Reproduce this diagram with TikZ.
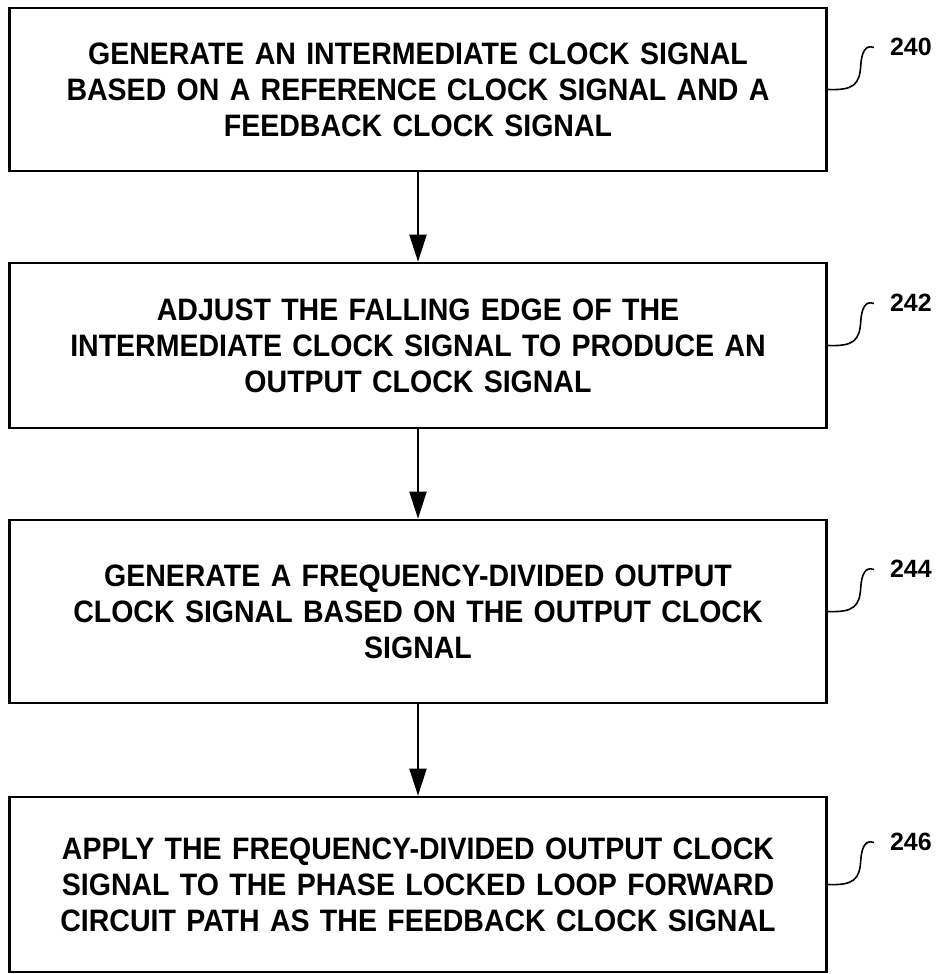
\documentclass[tikz,border=0pt]{standalone}
\usepackage{fontspec}
\setmainfont{Liberation Sans}
\newfontfamily\boxfont[FakeStretch=0.92]{Liberation Sans}
\usetikzlibrary{arrows.meta,positioning}
\tikzset{
  stepbox/.style={draw,line width=2.6pt,minimum width=817pt,text width=800pt,align=center,inner sep=0pt,font=\boxfont\bfseries\fontsize{31}{36}\selectfont},
  flow/.style={-{Triangle[length=27pt,width=17pt]},line width=2pt},
  refnum/.style={anchor=west,inner sep=0pt,font=\bfseries\fontsize{25}{30}\selectfont},
  squig/.style={line width=1.6pt}
}
\begin{document}
\begin{tikzpicture}[x=1pt,y=-1pt]
			\useasboundingbox (0,0) rectangle (948,974);
			\node[stepbox,minimum height=163pt] (gen) at (418,89.5) {GENERATE AN INTERMEDIATE CLOCK SIGNAL\\BASED ON A REFERENCE CLOCK SIGNAL AND A\\FEEDBACK CLOCK SIGNAL};
			\node[stepbox,minimum height=165pt,below=89.4pt of gen] (adj) {ADJUST THE FALLING EDGE OF THE\\INTERMEDIATE CLOCK SIGNAL TO PRODUCE AN\\OUTPUT CLOCK SIGNAL};
			\node[stepbox,minimum height=183pt,below=89.4pt of adj] (div) {GENERATE A FREQUENCY-DIVIDED OUTPUT\\CLOCK SIGNAL BASED ON THE OUTPUT CLOCK\\SIGNAL};
			\node[stepbox,minimum height=175pt,below=91.4pt of div] (app) {APPLY THE FREQUENCY-DIVIDED OUTPUT CLOCK\\SIGNAL TO THE PHASE LOCKED LOOP FORWARD\\CIRCUIT PATH AS THE FEEDBACK CLOCK SIGNAL};
			\draw[flow] (gen) -- (adj);
			\draw[flow] (adj) -- (div);
			\draw[flow] (div) -- (app);
			\foreach \b/\n in {gen/240,adj/242,div/244,app/246}{
				\node[refnum] (r\n) at ([shift={(62,-43)}]\b.east) {\n};
				\begin{scope}[shift={(\b.east)}]
					\draw[squig] (0,0) .. controls (26,1) and (32,-5) .. (33,-25) .. controls (34,-38) and (38,-45) .. (46,-42);
				\end{scope}
			}
		\end{tikzpicture}
\end{document}
